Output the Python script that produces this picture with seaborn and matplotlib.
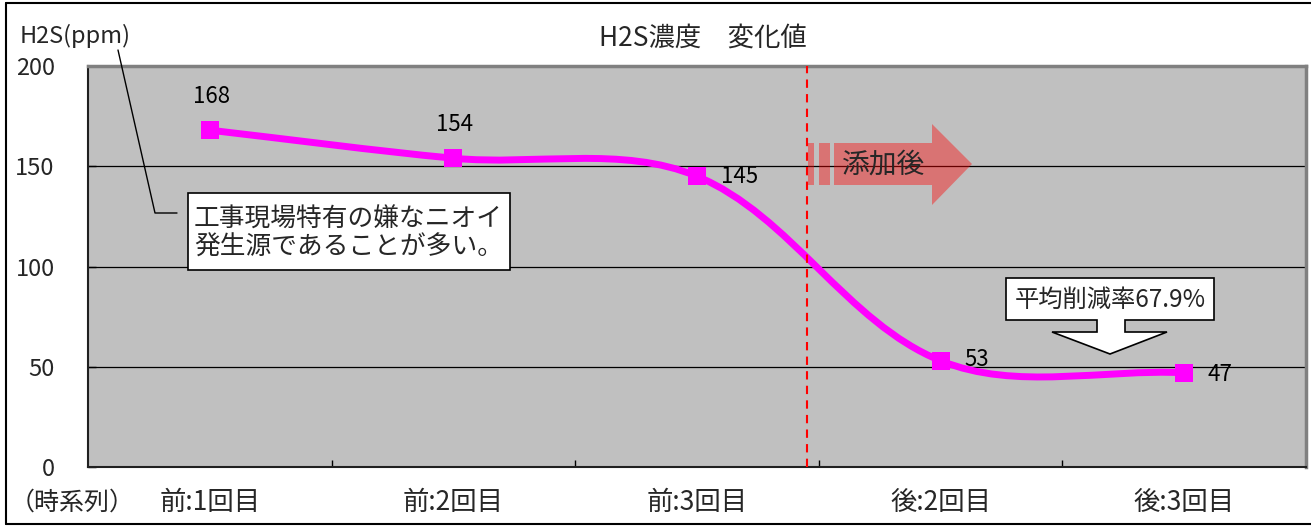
import numpy as np
import pandas as pd
import matplotlib
matplotlib.use("Agg")
import matplotlib.pyplot as plt
from matplotlib.path import Path
from matplotlib.patches import PathPatch, Polygon
from matplotlib.lines import Line2D
import seaborn as sns

# --- data -------------------------------------------------------------
categories = ["前:1回目", "前:2回目", "前:3回目", "後:2回目", "後:3回目"]
h2s_ppm = [168, 154, 145, 53, 47]
y_ticks = [0, 50, 100, 150, 200]
dosing_start = 2.45          # category position where the additive starts

title_text = "H2S濃度　変化値"
y_label_text = "H2S(ppm)"
x_caption_text = "（時系列）"
callout_text = "工事現場特有の嫌なニオイ\n発生源であることが多い。"
arrow_text = "添加後"
reduction_text = "平均削減率67.9%"

# --- style ------------------------------------------------------------
sns.set_style("white")
plt.rcParams["font.family"] = ["Noto Sans CJK JP", "DejaVu Sans"]

W, H = 1311, 528
fig = plt.figure(figsize=(W / 100, H / 100), dpi=100)
fig.patch.set_facecolor("white")


def fx(x):
    return x / W


def fy(y):
    return 1 - y / H


def fxy(x, y):
    return (fx(x), fy(y))


ax = fig.add_axes([fx(88), fy(467), (1306 - 88) / W, (467 - 66) / H])
ax.set_facecolor("#c0c0c0")

df = pd.DataFrame({"category": categories, "ppm": h2s_ppm})
xpos = np.arange(len(categories))

# markers
sns.scatterplot(data=df, x="category", y="ppm", marker="s", s=13 ** 2,
                color="#ff00ff", edgecolor="none", linewidth=0, zorder=5, ax=ax)

ax.set_xlim(-0.5, len(categories) - 0.5)
ax.set_ylim(0, 200)

# smoothed connecting line (cubic Bezier through the points, built in display space)
pts = ax.transData.transform(np.column_stack([xpos, h2s_ppm]).astype(float))
n = len(pts)
verts = [pts[0]]
codes = [Path.MOVETO]
for i in range(n - 1):
    p0, p1 = pts[i], pts[i + 1]
    seg = np.linalg.norm(p1 - p0)
    t0 = (pts[i + 1] - pts[i - 1]) if i > 0 else (pts[1] - pts[0])
    t1 = (pts[i + 2] - pts[i]) if i + 2 < n else (pts[i + 1] - pts[i])
    t0 = t0 / np.linalg.norm(t0)
    t1 = t1 / np.linalg.norm(t1)
    verts += [p0 + t0 * seg / 3, p1 - t1 * seg / 3, p1]
    codes += [Path.CURVE4] * 3
verts = ax.transData.inverted().transform(np.array(verts))
ax.add_patch(PathPatch(Path(verts, codes), facecolor="none", edgecolor="#ff00ff",
                       lw=5, capstyle="round", joinstyle="round", zorder=4))

# value labels
label_offsets = [(1, 24.5, "center"), (1, 24.5, "center"), (17, 0, "left"),
                 (17, 1, "left"), (17, -1.5, "left")]
for x, v, (dx, dy, ha) in zip(xpos, h2s_ppm, label_offsets):
    ax.annotate(f"{v}", (x, v), xytext=(dx, dy), textcoords="offset points",
                ha=ha, va="center", fontsize=16, color="black", zorder=6)

# start of additive dosing
ax.axvline(dosing_start, color="#ff0000", lw=1.5, dashes=(4, 3), zorder=4)

# axes, ticks, grid
ax.set_yticks(y_ticks)
ax.set_xticks(xpos, categories)
ax.set_xticks(np.arange(0.5, len(categories) - 0.5, 1), minor=True)
ax.tick_params(axis="y", direction="in", length=6, width=1, color="black",
               labelsize=17, pad=24, left=True)
ax.tick_params(axis="x", which="major", length=0, labelsize=19, pad=16)
ax.tick_params(axis="x", which="minor", direction="in", length=5, width=1,
               color="black", bottom=True)
ax.set_xlabel("")
ax.set_ylabel("")
ax.yaxis.grid(True, color="black", lw=0.9)
ax.xaxis.grid(False)
ax.set_axisbelow(True)
for side in ("left", "bottom"):
    ax.spines[side].set_color("#202020")
    ax.spines[side].set_linewidth(1.5)
for side in ("top", "right"):
    ax.spines[side].set_color("#808080")
    ax.spines[side].set_linewidth(2.5)

# titles and captions
fig.text(fx(703), fy(38), title_text, ha="center", va="center", fontsize=19)
fig.text(fx(20), fy(36), y_label_text, ha="left", va="center", fontsize=17)
fig.text(fx(10), fy(503), x_caption_text, ha="left", va="center", fontsize=18)

# outer frame
for (x0, y0, x1, y1) in [(6, 3, 1311, 3), (6, 3, 6, 524), (6, 524, 1311, 524)]:
    fig.add_artist(Line2D([fx(x0), fx(x1)], [fy(y0), fy(y1)], color="black",
                          lw=1.5, transform=fig.transFigure))

# callout with leader line
fig.add_artist(Line2D([fx(118), fx(155), fx(177)], [fy(50), fy(213), fy(213)],
                      color="black", lw=1, transform=fig.transFigure, zorder=6))
fig.add_artist(Polygon([fxy(188, 193), fxy(510, 193), fxy(510, 270), fxy(188, 270)],
                       closed=True, facecolor="white", edgecolor="black", lw=1.2,
                       transform=fig.transFigure, zorder=6))
fig.text(fx(194), fy(234), callout_text, ha="left", va="center", fontsize=18.5,
         linespacing=1.1, zorder=7)

# "after dosing" block arrow
arrow_kw = dict(closed=True, facecolor="#ff0000", edgecolor="none", alpha=0.4,
                transform=fig.transFigure, zorder=6)
fig.add_artist(Polygon([fxy(808, 143), fxy(814, 143), fxy(814, 185), fxy(808, 185)], **arrow_kw))
fig.add_artist(Polygon([fxy(819, 143), fxy(830, 143), fxy(830, 185), fxy(819, 185)], **arrow_kw))
fig.add_artist(Polygon([fxy(834, 143), fxy(932, 143), fxy(932, 124), fxy(972, 164),
                        fxy(932, 205), fxy(932, 185), fxy(834, 185)], **arrow_kw))
fig.text(fx(842), fy(165), arrow_text, ha="left", va="center", fontsize=20, zorder=7)

# reduction-rate callout pointing down
fig.add_artist(Polygon([fxy(1006, 278), fxy(1214, 278), fxy(1214, 320), fxy(1125, 320),
                        fxy(1125, 332), fxy(1167, 332), fxy(1110, 354), fxy(1052, 332),
                        fxy(1097, 332), fxy(1097, 320), fxy(1006, 320)],
                       closed=True, facecolor="white", edgecolor="black", lw=1.2,
                       transform=fig.transFigure, zorder=6))
fig.text(fx(1110), fy(300), reduction_text, ha="center", va="center", fontsize=17.5, zorder=7)

fig.savefig("out.png", dpi=100)
